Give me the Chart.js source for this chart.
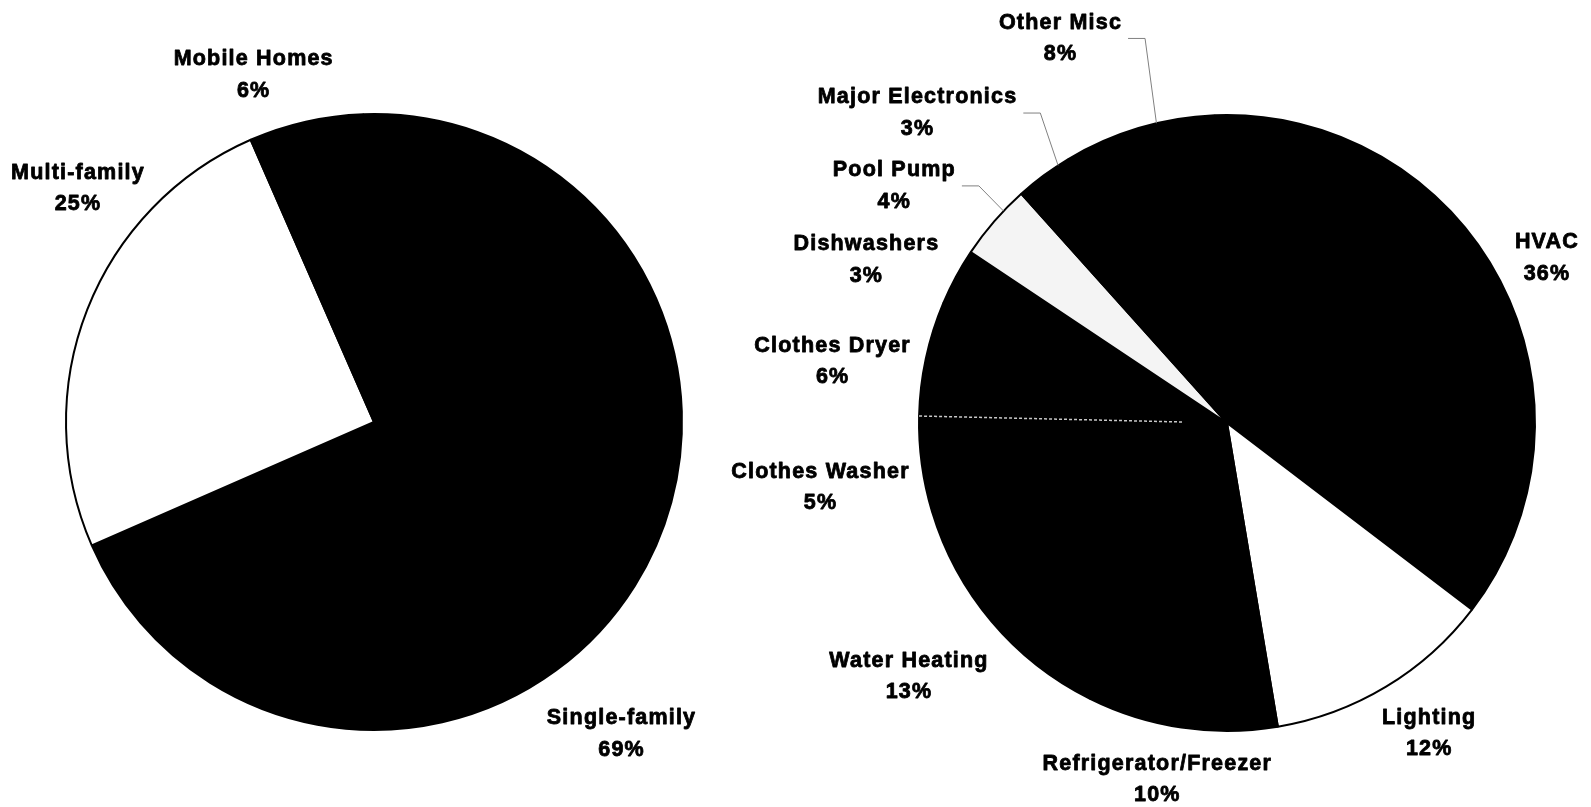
<!DOCTYPE html>
<html>
<head>
<meta charset="utf-8">
<title>Residential Housing Mix and End-Use Shares</title>
<script src="https://cdn.jsdelivr.net/npm/chart.js@4.4.1/dist/chart.umd.min.js"></script>
<style>
  html, body { margin: 0; padding: 0; background: #fff; }
  .pane { position: absolute; top: 0; height: 807px; }
  #housingPane { left: 0; width: 720px; }
  #endUsePane { left: 720px; width: 871px; }
</style>
</head>
<body>
<div class="pane" id="housingPane"><canvas id="housingChart"></canvas></div>
<div class="pane" id="endUsePane"><canvas id="endUseChart"></canvas></div>

<script>
// Housing stock by type (%)
const HOUSING_LABELS = ['Single-family', 'Multi-family', 'Mobile Homes'];
const HOUSING_SHARES = [69, 25, 6];

// Residential electricity by end use (%)
const END_USE_LABELS = [
  'HVAC', 'Lighting', 'Refrigerator/Freezer', 'Water Heating', 'Clothes Washer',
  'Clothes Dryer', 'Dishwashers', 'Pool Pump', 'Major Electronics', 'Other Misc',
];
const END_USE_SHARES = [36, 12, 10, 13, 5, 6, 3, 4, 3, 8];

const INK = '#000';
const PAPER = '#fff';
const SPECKLE = '#f4f4f4';

// Two-line slice labels ("name" / "nn%") placed just outside the rim,
// with optional elbow leader lines and a dotted seam along one slice edge.
const sliceLabels = {
  id: 'sliceLabels',
  afterDatasetsDraw(chart, args, opts) {
    const ctx = chart.ctx;
    const meta = chart.getDatasetMeta(0);
    const labels = chart.data.labels;
    const values = chart.data.datasets[0].data;
    const nudge = opts.nudge || {};
    const leaders = opts.leaders || {};

    ctx.save();

    if (opts.seam) {
      const arc = meta.data[labels.indexOf(opts.seam)];
      const p = arc.getProps(['x', 'y', 'startAngle', 'outerRadius'], true);
      const c = Math.cos(p.startAngle), s = Math.sin(p.startAngle);
      ctx.strokeStyle = '#c8c8c8';
      ctx.lineWidth = 1.5;
      ctx.setLineDash([3, 2]);
      ctx.beginPath();
      ctx.moveTo(p.x + p.outerRadius * c, p.y + p.outerRadius * s);
      ctx.lineTo(p.x + p.outerRadius * 0.14 * c, p.y + p.outerRadius * 0.14 * s);
      ctx.stroke();
      ctx.setLineDash([]);
    }

    ctx.font = 'bold 21.5px "Liberation Sans", Arial, sans-serif';
    ctx.letterSpacing = '1.2px';
    ctx.textAlign = 'center';
    ctx.textBaseline = 'middle';
    ctx.lineJoin = 'round';

    meta.data.forEach((arc, i) => {
      const p = arc.getProps(['x', 'y', 'startAngle', 'endAngle', 'outerRadius'], true);
      const mid = (p.startAngle + p.endAngle) / 2;
      const cos = Math.cos(mid);
      const sin = Math.sin(mid);
      const lines = [labels[i], values[i] + '%'];
      const w = Math.max(...lines.map(t => ctx.measureText(t).width));
      const h = opts.lineHeight * lines.length;
      const r = p.outerRadius + opts.gap;
      const [dx, dy] = nudge[labels[i]] || [0, 0];
      const bx = p.x + r * cos + cos * w / 2 + dx;
      const by = p.y + r * sin + sin * h / 2 + dy;

      // heavy print: fill plus a thin outline of the same ink
      ctx.fillStyle = INK;
      ctx.strokeStyle = INK;
      ctx.lineWidth = 0.8;
      lines.forEach((t, k) => {
        const ty = by + (k - (lines.length - 1) / 2) * opts.lineHeight;
        ctx.fillText(t, bx, ty);
        ctx.strokeText(t, bx, ty);
      });

      if (labels[i] in leaders) {
        // elbow from the text box to a point on the rim of the slice
        const a = p.startAngle + (p.endAngle - p.startAngle) * leaders[labels[i]];
        const sx = bx + w / 2 + 6;
        ctx.strokeStyle = '#808080';
        ctx.lineWidth = 1;
        ctx.beginPath();
        ctx.moveTo(sx, by);
        ctx.lineTo(sx + 17, by);
        ctx.lineTo(p.x + p.outerRadius * Math.cos(a), p.y + p.outerRadius * Math.sin(a));
        ctx.stroke();
      }
    });

    ctx.restore();
  },
};

function pieConfig(labels, values, colors, rotation, padding, labelOpts) {
  return {
    type: 'pie',
    data: {
      labels,
      datasets: [{
        data: values,
        backgroundColor: colors,
        borderColor: INK,
        borderWidth: 2,
      }],
    },
    options: {
      responsive: true,
      maintainAspectRatio: false,
      animation: false,
      rotation,
      layout: { padding },
      plugins: {
        legend: { display: false },
        tooltip: { enabled: false },
        sliceLabels: { gap: 15, lineHeight: 31.5, ...labelOpts },
      },
    },
    plugins: [sliceLabels],
  };
}

new Chart(document.getElementById('housingChart'), pieConfig(
  HOUSING_LABELS,
  HOUSING_SHARES,
  [INK, PAPER, INK],
  -2,
  { left: 65, right: 37, top: 113, bottom: 76 },
  {
    nudge: {
      'Single-family': [-89, 123],
      'Multi-family': [67, -104],
      'Mobile Homes': [-31, -1],
    },
  },
));

new Chart(document.getElementById('endUseChart'), pieConfig(
  END_USE_LABELS,
  END_USE_SHARES,
  [INK, PAPER, INK, INK, INK, INK, INK, SPECKLE, INK, INK],
  -2.3,
  { left: 198, right: 55, top: 114, bottom: 75 },
  {
    seam: 'Clothes Dryer',
    leaders: { 'Pool Pump': 0.68, 'Major Electronics': 0.8, 'Other Misc': 0.62 },
    nudge: {
      'HVAC': [5, -1],
      'Lighting': [11, 7],
      'Refrigerator/Freezer': [-5, 6],
      'Water Heating': [-10, 25],
      'Clothes Washer': [2, 17],
      'Clothes Dryer': [-2, 13],
      'Dishwashers': [-12, 5],
      'Pool Pump': [-42, -5],
      'Major Electronics': [-58, -25],
      'Other Misc': [-56, -45],
    },
  },
));
</script>
</body>
</html>
